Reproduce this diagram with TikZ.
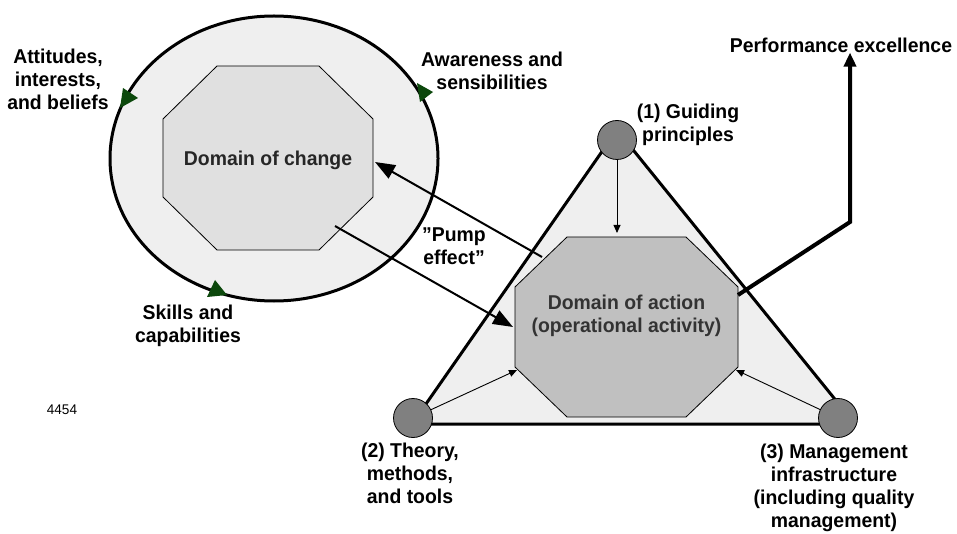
\documentclass[tikz,border=0pt]{standalone}
\usepackage{fontspec}
\setmainfont{Liberation Sans}[FakeStretch=0.97]
\usetikzlibrary{arrows.meta}
\definecolor{ringfill}{RGB}{239,239,239}
\definecolor{chgfill}{RGB}{224,224,224}
\definecolor{actfill}{RGB}{192,192,192}
\definecolor{dotfill}{RGB}{128,128,128}
\definecolor{tipgreen}{RGB}{12,72,12}
\tikzset{
  lbl/.style={font=\bfseries\fontsize{20}{23}\selectfont, align=center, inner sep=0pt},
  frame/.style={inner sep=0pt, outer sep=0pt},
  octa/.style={draw, line width=0.8pt},
  corner/.style={draw, circle, fill=dotfill, minimum size=39pt, inner sep=0pt, line width=0.8pt},
  thin/.style={-{Triangle[length=8pt,width=7pt]}, line width=0.9pt},
  pump/.style={-{Triangle[length=20pt,width=15pt]}, line width=2pt},
}
% octagon inside a frame node: #1 node, #2 corner cut x, #3 corner cut y
\newcommand{\octpath}[3]{([xshift=#2]#1.north west) -- ([xshift=-#2]#1.north east)
  -- ([yshift=-#3]#1.north east) -- ([yshift=#3]#1.south east)
  -- ([xshift=-#2]#1.south east) -- ([xshift=#2]#1.south west)
  -- ([yshift=#3]#1.south west) -- ([yshift=-#3]#1.north west) -- cycle}

\begin{document}
\begin{tikzpicture}[x=1pt, y=-1pt]
            \useasboundingbox (0,0) rectangle (957,534);
            % circle of change
            \draw[line width=3pt, fill=ringfill] (274,158.5) ellipse [x radius=164, y radius=142.5];
            \fill[tipgreen] (123,88) -- (138,98) -- (120,108) -- cycle;
            \fill[tipgreen] (417,83) -- (433,92) -- (420,102) -- cycle;
            \fill[tipgreen] (207,297) -- (215,280) -- (227,295) -- cycle;
            \node[frame, minimum width=210pt, minimum height=184pt] (dchg) at (268,158) {};
            \draw[octa, fill=chgfill] \octpath{dchg}{54pt}{53pt};
            \node[lbl, text=black!85] (chgtxt) at ([yshift=-2pt]dchg.center) {Domain of  change};

            % triangle
            \draw[line width=3pt, line join=round, fill=ringfill] (617,130) -- (412,424) -- (855,424) -- cycle;
            \node[frame, minimum width=223pt, minimum height=180pt] (dact) at (626.5,327) {};
            \draw[octa, fill=actfill] \octpath{dact}{52pt}{50pt};
            \node[lbl, text=black!80] (acttxt) at ([yshift=11pt]dact.center) {Domain of action\\(operational activity)};
            \coordinate (act-sw) at ([yshift=50pt]dact.south west);
            \coordinate (act-se) at ([yshift=50pt]dact.south east);
            \node[corner] (g1) at (617,140) {};
            \node[corner] (g2) at (413,418) {};
            \node[corner] (g3) at (838,418) {};
            \draw[thin, shorten >=4pt] (g1.south) -- (g1.south |- dact.north);
            \draw[thin] (g2) -- ([shift={(2pt,-3pt)}]act-sw);
            \draw[thin] (g3) -- ([shift={(-2pt,-3pt)}]act-se);

            % pump
            \coordinate (pumpout) at ([shift={(27pt,-20pt)}]dact.north west);
            \coordinate (pumpin) at ([shift={(-38pt,24pt)}]dchg.south east);
            \draw[pump] (pumpout) -- ([shift={(2pt,-4pt)}]dchg.east);
            \draw[pump] (pumpin) -- ([xshift=-2pt]dact.west);

            % performance
            \node[lbl] (perf) at (841,45) {Performance excellence};
            \coordinate (bend) at (850,222);
            \draw[line width=4pt, -{Triangle[length=14pt,width=12pt]}] ([yshift=32pt]dact.east) -- (bend) -- (bend |- perf.south);

            \node[lbl] (attit) at (58,79) {Attitudes,\\interests,\\and beliefs};
            \node[lbl] (aware) at (492,71) {Awareness and\\sensibilities};
            \node[lbl] (skill) at (188,326) {Skills and\\capabilities};
            \node[lbl] (guide) at (688,125) {(1) Guiding\\principles};
            \node[lbl] (theory) at (410,473) {(2) Theory,\\methods,\\and tools};
            \node[lbl] (mgmt) at (834,488) {(3) Management\\infrastructure\\(including quality\\management)};
            \node[lbl] (pumptxt) at (454,246) {”Pump\\effect”};
            \node[font=\fontsize{14}{16}\selectfont, inner sep=0pt] (num) at (62,410) {4454};
\end{tikzpicture}
\end{document}
